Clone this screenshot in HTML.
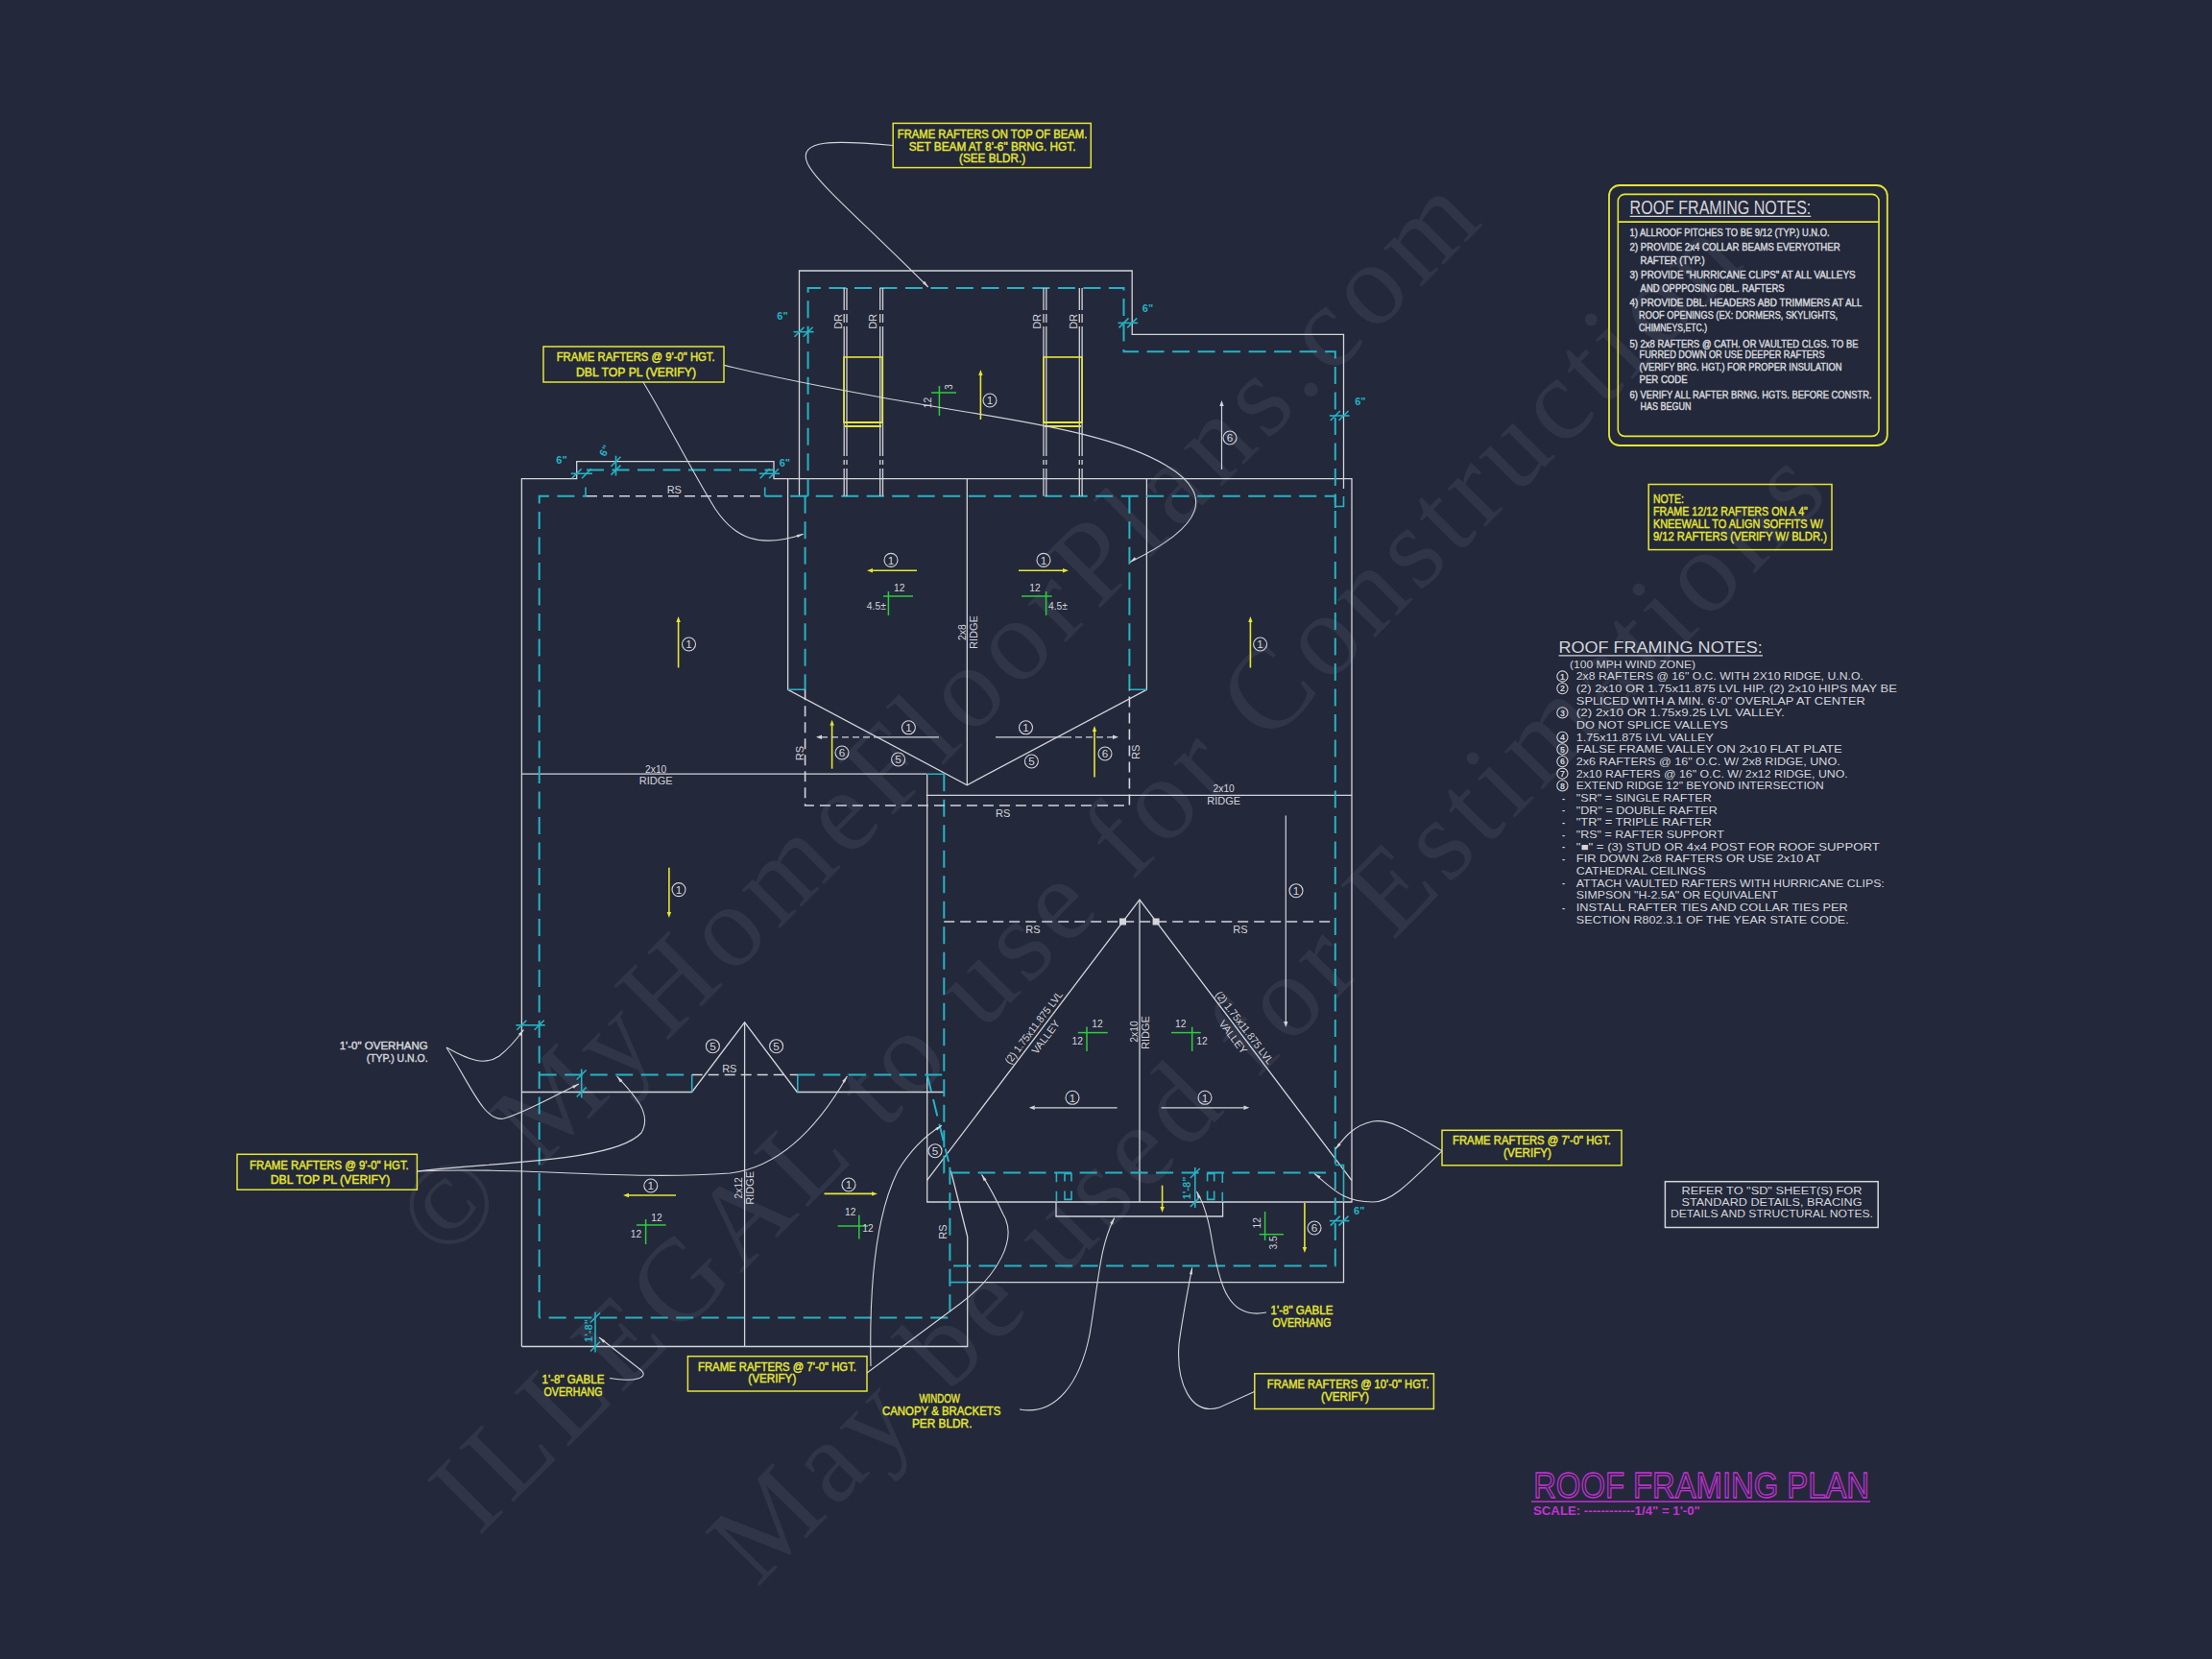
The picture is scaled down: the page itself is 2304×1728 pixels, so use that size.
<!DOCTYPE html>
<html><head><meta charset="utf-8"><title>Roof Framing Plan</title>
<style>
html,body{margin:0;padding:0;background:#23283a;width:2304px;height:1728px;overflow:hidden}
svg{display:block;font-family:"Liberation Sans",sans-serif}
.w{stroke:#d4d5da;stroke-width:1.3;fill:none}
.wd{stroke:#d4d5da;stroke-width:1.6;fill:none;stroke-dasharray:11 6}
.c{stroke:#25b3c4;stroke-width:2;fill:none;stroke-dasharray:18 8.5}
.cs{stroke:#25b3c4;stroke-width:1.6;fill:none}
.y{stroke:#e6e633;stroke-width:1.8;fill:none}
.g{stroke:#2ccc3c;stroke-width:1.5;fill:none}
.ld{stroke:#d4d5da;stroke-width:1.1;fill:none}
.wm{font-family:"Liberation Serif",serif;fill:#8b90a8;fill-opacity:0.13}
</style></head><body>
<svg width="2304" height="1728" viewBox="0 0 2304 1728">
<rect width="2304" height="1728" fill="#23283a"/>

<text class="wm" x="1004.6" y="774.4" font-size="122" text-anchor="middle" textLength="1531" lengthAdjust="spacing" transform="rotate(-45 1004.6 774.4)">© MyHomeFloorPlans.com</text>
<text class="wm" x="1158.4" y="938.7" font-size="122" text-anchor="middle" textLength="1870" lengthAdjust="spacing" transform="rotate(-45.1 1158.4 938.7)">ILLEGAL to use for Construction</text>
<text class="wm" x="1347.6" y="1085.6" font-size="122" text-anchor="middle" textLength="1595" lengthAdjust="spacing" transform="rotate(-45.5 1347.6 1085.6)">May be used for Estimations</text>
<path class="w" d="M832.5,516.7V282H1179.2V348.3H1399.5V509"/>
<path class="cs" d="M1390.8,527.5H1399.5V517"/>
<path class="w" d="M543.4,1402.5V498.7H600.7V480.7H806V498.7H1408V1252H965.7V806.2"/>
<path class="w" d="M543.4,806.2H965.3"/>
<path class="w" d="M964.8,828.3H1408"/>
<path class="w" d="M820.6,498.7V718.3L1007.3,817.7L1194.4,718.3V498.7"/>
<path class="w" d="M1007.3,498.7V817.7"/>
<path class="w" d="M543.4,1137.5H720.7L775.6,1064.8L830.3,1137.5H983.3"/>
<path class="w" d="M775.6,1064.8V1402.5"/>
<path class="w" d="M965.4,1229.7L1187,937L1408,1229.7"/>
<path class="w" d="M1187,937V1252"/>
<path class="w" d="M1100,1252V1267H1273.6V1252"/>
<path class="w" d="M543.4,1402.5H1007.7V1288L990.4,1219.5"/>
<path class="w" d="M1007.7,1335.6H1399.5V1252"/>
<path class="c" d="M841.6,516.7V300H1170.5V366.3H1390.8V529"/>
<path class="c" d="M561.7,1372.5V516.7H611"/>
<path class="c" d="M796.7,516.7H1390.8V1318.4H989.4"/>
<path class="c" d="M611,489.6H806"/>
<path class="c" d="M838.6,516.7V718.3"/>
<path class="c" d="M1176.4,516.7V718.3"/>
<path class="c" d="M983.3,806.2V1221.4H1390.8"/>
<path class="c" d="M989.4,1215.7V1372.5H561.7"/>
<path class="c" d="M561.7,1119.5H720.7"/>
<path class="c" d="M830.8,1119.5H983.3"/>
<path class="c" d="M965.7,1119.3L988,1210"/>
<path class="cs" d="M820.6,718.3H838.6M1176.4,718.3H1194.4M965.3,806.2H983.3"/>
<path class="cs" d="M720.7,1119.5V1137.5M830.8,1119.5V1137.5"/>
<path class="cs" d="M989.4,1335.6H1007.7"/>
<path class="cs" d="M1390.8,1213.5H1399.5V1252"/>
<path class="cs" d="M610,507.5V516.7M796.7,507.5V516.7"/>
<path class="wd" d="M611,516.7H796.7"/>
<path class="wd" d="M838.6,718.3V839H1176.4V718.3"/>
<path class="wd" d="M983.2,960H1390.8"/>
<path class="wd" d="M720.7,1119.5H830.8"/>
<rect x="1166" y="956.5" width="7" height="7" fill="#d4d5da"/>
<rect x="1200.6" y="956.5" width="7" height="7" fill="#d4d5da"/>
<path class="w" d="M879.2,300V323M879.2,327V336M879.2,340V475M879.2,479V484M879.2,488V516.7"/>
<path class="w" d="M882,300V323M882,327V336M882,340V475M882,479V484M882,488V516.7"/>
<path class="w" d="M916.7,300V323M916.7,327V336M916.7,340V475M916.7,479V484M916.7,488V516.7"/>
<path class="w" d="M919.5,300V323M919.5,327V336M919.5,340V475M919.5,479V484M919.5,488V516.7"/>
<path class="w" d="M1087,300V323M1087,327V336M1087,340V475M1087,479V484M1087,488V516.7"/>
<path class="w" d="M1089.8,300V323M1089.8,327V336M1089.8,340V475M1089.8,479V484M1089.8,488V516.7"/>
<path class="w" d="M1124.3,300V323M1124.3,327V336M1124.3,340V475M1124.3,479V484M1124.3,488V516.7"/>
<path class="w" d="M1127.1,300V323M1127.1,327V336M1127.1,340V475M1127.1,479V484M1127.1,488V516.7"/>
<rect x="879" y="372" width="40" height="68" fill="none" stroke="#e6e633" stroke-width="1.6"/>
<path class="y" d="M879,440H919 M880,444H918"/>
<rect x="1087" y="372" width="40" height="68" fill="none" stroke="#e6e633" stroke-width="1.6"/>
<path class="y" d="M1087,440H1127 M1088,444H1126"/>
<path d="M1021.4,437L1021.4,391" stroke="#e6e633" stroke-width="1.6" fill="none"/>
<path d="M1021.4,385L1023.6,391L1019.2,391Z" fill="#e6e633"/>
<circle cx="1031" cy="417" r="7" fill="none" stroke="#d4d5da" stroke-width="1.1"/>
<text x="1031" y="421.2" font-size="11.7" fill="#d4d5da" text-anchor="middle">1</text>
<path d="M706.6,695.5L706.6,648" stroke="#e6e633" stroke-width="1.6" fill="none"/>
<path d="M706.6,642L708.8,648L704.4,648Z" fill="#e6e633"/>
<circle cx="717.5" cy="671" r="7" fill="none" stroke="#d4d5da" stroke-width="1.1"/>
<text x="717.5" y="675.2" font-size="11.7" fill="#d4d5da" text-anchor="middle">1</text>
<path d="M696.9,903.8L696.9,950" stroke="#e6e633" stroke-width="1.6" fill="none"/>
<path d="M696.9,956L694.7,950L699.1,950Z" fill="#e6e633"/>
<circle cx="707" cy="926.6" r="7" fill="none" stroke="#d4d5da" stroke-width="1.1"/>
<text x="707" y="930.9" font-size="11.7" fill="#d4d5da" text-anchor="middle">1</text>
<path d="M1302.4,695.5L1302.4,648" stroke="#e6e633" stroke-width="1.6" fill="none"/>
<path d="M1302.4,642L1304.6,648L1300.2,648Z" fill="#e6e633"/>
<circle cx="1312.6" cy="671" r="7" fill="none" stroke="#d4d5da" stroke-width="1.1"/>
<text x="1312.6" y="675.2" font-size="11.7" fill="#d4d5da" text-anchor="middle">1</text>
<path d="M866.6,800.7L866.6,755.7" stroke="#e6e633" stroke-width="1.6" fill="none"/>
<path d="M866.6,749.7L868.8,755.7L864.4,755.7Z" fill="#e6e633"/>
<circle cx="877" cy="784" r="7" fill="none" stroke="#d4d5da" stroke-width="1.1"/>
<text x="877" y="788.2" font-size="11.7" fill="#d4d5da" text-anchor="middle">6</text>
<path d="M1140,809.4L1140,762" stroke="#e6e633" stroke-width="1.6" fill="none"/>
<path d="M1140,756L1142.2,762L1137.8,762Z" fill="#e6e633"/>
<circle cx="1151" cy="785" r="7" fill="none" stroke="#d4d5da" stroke-width="1.1"/>
<text x="1151" y="789.2" font-size="11.7" fill="#d4d5da" text-anchor="middle">6</text>
<path d="M955,594.2L909,594.2" stroke="#e6e633" stroke-width="1.6" fill="none"/>
<path d="M903,594.2L909,592L909,596.4Z" fill="#e6e633"/>
<circle cx="928" cy="583.4" r="7" fill="none" stroke="#d4d5da" stroke-width="1.1"/>
<text x="928" y="587.6" font-size="11.7" fill="#d4d5da" text-anchor="middle">1</text>
<path d="M1061,594.2L1107,594.2" stroke="#e6e633" stroke-width="1.6" fill="none"/>
<path d="M1113,594.2L1107,596.4L1107,592Z" fill="#e6e633"/>
<circle cx="1087" cy="583.4" r="7" fill="none" stroke="#d4d5da" stroke-width="1.1"/>
<text x="1087" y="587.6" font-size="11.7" fill="#d4d5da" text-anchor="middle">1</text>
<path d="M704,1245L655,1245" stroke="#e6e633" stroke-width="1.6" fill="none"/>
<path d="M649,1245L655,1242.8L655,1247.2Z" fill="#e6e633"/>
<circle cx="677.8" cy="1235" r="7" fill="none" stroke="#d4d5da" stroke-width="1.1"/>
<text x="677.8" y="1239.2" font-size="11.7" fill="#d4d5da" text-anchor="middle">1</text>
<path d="M858.5,1243.4L908,1243.4" stroke="#e6e633" stroke-width="1.6" fill="none"/>
<path d="M914,1243.4L908,1245.6L908,1241.2Z" fill="#e6e633"/>
<circle cx="884" cy="1234" r="7" fill="none" stroke="#d4d5da" stroke-width="1.1"/>
<text x="884" y="1238.2" font-size="11.7" fill="#d4d5da" text-anchor="middle">1</text>
<path d="M1210.6,1234.7L1210.6,1257" stroke="#e6e633" stroke-width="1.6" fill="none"/>
<path d="M1210.6,1263L1208.4,1257L1212.8,1257Z" fill="#e6e633"/>
<path d="M1358.9,1253L1358.9,1299" stroke="#e6e633" stroke-width="1.6" fill="none"/>
<path d="M1358.9,1305L1356.7,1299L1361.1,1299Z" fill="#e6e633"/>
<circle cx="1369" cy="1279" r="7" fill="none" stroke="#d4d5da" stroke-width="1.1"/>
<text x="1369" y="1283.2" font-size="11.7" fill="#d4d5da" text-anchor="middle">6</text>
<path d="M1272.5,489L1272.5,423" stroke="#d4d5da" stroke-width="1.2" fill="none"/>
<path d="M1272.5,417L1274.7,423L1270.3,423Z" fill="#d4d5da"/>
<circle cx="1281" cy="456" r="7" fill="none" stroke="#d4d5da" stroke-width="1.1"/>
<text x="1281" y="460.2" font-size="11.7" fill="#d4d5da" text-anchor="middle">6</text>
<path d="M917,767.8L856,767.8" stroke="#d4d5da" stroke-width="0.01" fill="none"/>
<path d="M850,767.8L856,765.6L856,770Z" fill="#d4d5da"/>
<path d="M978,767.8H917" stroke="#d4d5da" stroke-width="1.2"/><path d="M917,767.8H856" stroke="#d4d5da" stroke-width="1.2" stroke-dasharray="7 4"/>
<circle cx="946.4" cy="757.8" r="7" fill="none" stroke="#d4d5da" stroke-width="1.1"/>
<text x="946.4" y="762" font-size="11.7" fill="#d4d5da" text-anchor="middle">1</text>
<circle cx="935.6" cy="791" r="7" fill="none" stroke="#d4d5da" stroke-width="1.1"/>
<text x="935.6" y="795.2" font-size="11.7" fill="#d4d5da" text-anchor="middle">5</text>
<path d="M1109,767.8L1159,767.8" stroke="#d4d5da" stroke-width="0.01" fill="none"/>
<path d="M1165,767.8L1159,770L1159,765.6Z" fill="#d4d5da"/>
<path d="M1037,767.8H1109" stroke="#d4d5da" stroke-width="1.2"/><path d="M1109,767.8H1159" stroke="#d4d5da" stroke-width="1.2" stroke-dasharray="7 4"/>
<circle cx="1068.5" cy="757.8" r="7" fill="none" stroke="#d4d5da" stroke-width="1.1"/>
<text x="1068.5" y="762" font-size="11.7" fill="#d4d5da" text-anchor="middle">1</text>
<circle cx="1074.4" cy="793" r="7" fill="none" stroke="#d4d5da" stroke-width="1.1"/>
<text x="1074.4" y="797.2" font-size="11.7" fill="#d4d5da" text-anchor="middle">5</text>
<path d="M1339.3,849.6L1339.3,1064" stroke="#d4d5da" stroke-width="1.2" fill="none"/>
<path d="M1339.3,1070L1337.1,1064L1341.5,1064Z" fill="#d4d5da"/>
<circle cx="1350" cy="927.7" r="7" fill="none" stroke="#d4d5da" stroke-width="1.1"/>
<text x="1350" y="932" font-size="11.7" fill="#d4d5da" text-anchor="middle">1</text>
<path d="M1163.6,1153.8L1077.8,1153.8" stroke="#d4d5da" stroke-width="1.2" fill="none"/>
<path d="M1071.8,1153.8L1077.8,1151.6L1077.8,1156Z" fill="#d4d5da"/>
<circle cx="1117" cy="1143.3" r="7" fill="none" stroke="#d4d5da" stroke-width="1.1"/>
<text x="1117" y="1147.5" font-size="11.7" fill="#d4d5da" text-anchor="middle">1</text>
<path d="M1209.6,1153.8L1295.4,1153.8" stroke="#d4d5da" stroke-width="1.2" fill="none"/>
<path d="M1301.4,1153.8L1295.4,1156L1295.4,1151.6Z" fill="#d4d5da"/>
<circle cx="1255" cy="1143.3" r="7" fill="none" stroke="#d4d5da" stroke-width="1.1"/>
<text x="1255" y="1147.5" font-size="11.7" fill="#d4d5da" text-anchor="middle">1</text>
<circle cx="742.4" cy="1089.7" r="7" fill="none" stroke="#d4d5da" stroke-width="1.1"/>
<text x="742.4" y="1094" font-size="11.7" fill="#d4d5da" text-anchor="middle">5</text>
<circle cx="808.6" cy="1089.7" r="7" fill="none" stroke="#d4d5da" stroke-width="1.1"/>
<text x="808.6" y="1094" font-size="11.7" fill="#d4d5da" text-anchor="middle">5</text>
<circle cx="974" cy="1198.7" r="7" fill="none" stroke="#d4d5da" stroke-width="1.1"/>
<text x="974" y="1203" font-size="11.7" fill="#d4d5da" text-anchor="middle">5</text>
<path class="g" d="M978.4,402L978.4,433"/>
<path class="g" d="M970,409L996,409"/>
<text x="988.2" y="406.9" font-size="10.3" fill="#d4d5da" text-anchor="middle" transform="rotate(-90 988.2 403.2)">3</text>
<text x="966.5" y="423.2" font-size="10.3" fill="#d4d5da" text-anchor="middle" transform="rotate(-90 966.5 419.5)">12</text>
<path class="g" d="M925.4,616L925.4,641"/>
<path class="g" d="M920,621L951,621"/>
<text x="936.7" y="615.8" font-size="10.3" fill="#d4d5da" text-anchor="middle">12</text>
<text x="912.8" y="635.2" font-size="10.3" fill="#d4d5da" text-anchor="middle">4.5±</text>
<path class="g" d="M1089.6,616L1089.6,641"/>
<path class="g" d="M1064,621L1095.6,621"/>
<text x="1078" y="615.8" font-size="10.3" fill="#d4d5da" text-anchor="middle">12</text>
<text x="1102" y="634.8" font-size="10.3" fill="#d4d5da" text-anchor="middle">4.5±</text>
<path class="g" d="M672.6,1270L672.6,1296"/>
<path class="g" d="M663,1276L693.6,1276"/>
<text x="684" y="1271.5" font-size="10.3" fill="#d4d5da" text-anchor="middle">12</text>
<text x="662.6" y="1288.8" font-size="10.3" fill="#d4d5da" text-anchor="middle">12</text>
<path class="g" d="M894.8,1265.5L894.8,1290.5"/>
<path class="g" d="M872.6,1277L904,1277"/>
<text x="885.7" y="1265.8" font-size="10.3" fill="#d4d5da" text-anchor="middle">12</text>
<text x="904" y="1283.3" font-size="10.3" fill="#d4d5da" text-anchor="middle">12</text>
<path class="g" d="M1132,1069.6L1132,1095"/>
<path class="g" d="M1122.8,1075.6L1153.8,1075.6"/>
<text x="1143" y="1070.2" font-size="10.3" fill="#d4d5da" text-anchor="middle">12</text>
<text x="1122.3" y="1087.8" font-size="10.3" fill="#d4d5da" text-anchor="middle">12</text>
<path class="g" d="M1241.7,1069.6L1241.7,1095"/>
<path class="g" d="M1220,1075.6L1250.8,1075.6"/>
<text x="1229.7" y="1070.2" font-size="10.3" fill="#d4d5da" text-anchor="middle">12</text>
<text x="1251.9" y="1087.8" font-size="10.3" fill="#d4d5da" text-anchor="middle">12</text>
<path class="g" d="M1317.6,1262L1317.6,1292"/>
<path class="g" d="M1311.6,1285.7L1337,1285.7"/>
<text x="1309.4" y="1277.5" font-size="10.3" fill="#d4d5da" text-anchor="middle" transform="rotate(-90 1309.4 1273.8)">12</text>
<text x="1326.7" y="1298.2" font-size="10.3" fill="#d4d5da" text-anchor="middle" transform="rotate(-90 1326.7 1294.4)">3.5</text>
<text x="702.3" y="513.6" font-size="11" fill="#d4d5da" text-anchor="middle">RS</text>
<text x="832.5" y="788.5" font-size="11" fill="#d4d5da" text-anchor="middle" transform="rotate(-90 832.5 784.5)">RS</text>
<text x="1044.6" y="851.4" font-size="11" fill="#d4d5da" text-anchor="middle">RS</text>
<text x="1183.5" y="787.4" font-size="11" fill="#d4d5da" text-anchor="middle" transform="rotate(-90 1183.5 783.4)">RS</text>
<text x="683.2" y="804.5" font-size="10.3" fill="#d4d5da" text-anchor="middle">2x10</text>
<text x="683.2" y="816.7" font-size="11" fill="#d4d5da" text-anchor="middle">RIDGE</text>
<text x="1002.3" y="662.4" font-size="10.3" fill="#d4d5da" text-anchor="middle" transform="rotate(-90 1002.3 658.6)">2x8</text>
<text x="1014.3" y="662.6" font-size="11" fill="#d4d5da" text-anchor="middle" transform="rotate(-90 1014.3 658.6)">RIDGE</text>
<text x="1274.7" y="824.8" font-size="10.3" fill="#d4d5da" text-anchor="middle">2x10</text>
<text x="1274.7" y="838.4" font-size="11" fill="#d4d5da" text-anchor="middle">RIDGE</text>
<text x="1076" y="972" font-size="11" fill="#d4d5da" text-anchor="middle">RS</text>
<text x="1292" y="972" font-size="11" fill="#d4d5da" text-anchor="middle">RS</text>
<text x="1181.4" y="1078.2" font-size="10.3" fill="#d4d5da" text-anchor="middle" transform="rotate(-90 1181.4 1074.5)">2x10</text>
<text x="1193.3" y="1079.6" font-size="11" fill="#d4d5da" text-anchor="middle" transform="rotate(-90 1193.3 1075.6)">RIDGE</text>
<text x="1076.6" y="1074.2" font-size="11" fill="#d4d5da" text-anchor="middle" textLength="92" lengthAdjust="spacingAndGlyphs" transform="rotate(-52.9 1076.6 1070.2)">(2) 1.75x11.875 LVL</text>
<text x="1089" y="1084" font-size="11" fill="#d4d5da" text-anchor="middle" transform="rotate(-52.9 1089 1080)">VALLEY</text>
<text x="1296.4" y="1074.2" font-size="11" fill="#d4d5da" text-anchor="middle" textLength="92" lengthAdjust="spacingAndGlyphs" transform="rotate(52.9 1296.4 1070.2)">(2) 1.75x11.875 LVL</text>
<text x="1284.5" y="1084" font-size="11" fill="#d4d5da" text-anchor="middle" transform="rotate(52.9 1284.5 1080)">VALLEY</text>
<text x="759.8" y="1116.5" font-size="11" fill="#d4d5da" text-anchor="middle">RS</text>
<text x="769.6" y="1241" font-size="10.3" fill="#d4d5da" text-anchor="middle" transform="rotate(-90 769.6 1237.3)">2x12</text>
<text x="781.5" y="1241.3" font-size="11" fill="#d4d5da" text-anchor="middle" transform="rotate(-90 781.5 1237.3)">RIDGE</text>
<text x="982" y="1287" font-size="11" fill="#d4d5da" text-anchor="middle" transform="rotate(-90 982 1283)">RS</text>
<text x="872.6" y="338.9" font-size="11" fill="#d4d5da" text-anchor="middle" transform="rotate(-90 872.6 334.9)">DR</text>
<text x="909.5" y="338.9" font-size="11" fill="#d4d5da" text-anchor="middle" transform="rotate(-90 909.5 334.9)">DR</text>
<text x="1080.4" y="338.9" font-size="11" fill="#d4d5da" text-anchor="middle" transform="rotate(-90 1080.4 334.9)">DR</text>
<text x="1118" y="338.9" font-size="11" fill="#d4d5da" text-anchor="middle" transform="rotate(-90 1118 334.9)">DR</text>
<path class="cs" d="M826.5,345.7L847.6,345.7"/>
<path class="cs" d="M827.5,350.7L837.5,340.7"/>
<path class="cs" d="M836.6,350.7L846.6,340.7"/>
<text x="815" y="333.4" font-size="11" fill="#25b3c4" text-anchor="middle" font-weight="bold">6"</text>
<path class="cs" d="M1164.5,336.4L1185.2,336.4"/>
<path class="cs" d="M1165.5,341.4L1175.5,331.4"/>
<path class="cs" d="M1174.2,341.4L1184.2,331.4"/>
<text x="1195.5" y="324.8" font-size="11" fill="#25b3c4" text-anchor="middle" font-weight="bold">6"</text>
<path class="cs" d="M1384.8,433L1405.5,433"/>
<path class="cs" d="M1385.8,438L1395.8,428"/>
<path class="cs" d="M1394.5,438L1404.5,428"/>
<text x="1416.8" y="422" font-size="11" fill="#25b3c4" text-anchor="middle" font-weight="bold">6"</text>
<path class="cs" d="M594.7,493.3L617,493.3"/>
<path class="cs" d="M595.7,498.3L605.7,488.3"/>
<path class="cs" d="M606,498.3L616,488.3"/>
<text x="585" y="483" font-size="11" fill="#25b3c4" text-anchor="middle" font-weight="bold">6"</text>
<path class="cs" d="M641.5,474.7L641.5,495.6"/>
<path class="cs" d="M636.5,485.7L646.5,475.7"/>
<path class="cs" d="M636.5,494.6L646.5,484.6"/>
<text x="629.6" y="473.4" font-size="11" fill="#25b3c4" text-anchor="middle" transform="rotate(-60 629.6 469.4)" font-weight="bold">6"</text>
<path class="cs" d="M790.7,493.3L812,493.3"/>
<path class="cs" d="M791.7,498.3L801.7,488.3"/>
<path class="cs" d="M801,498.3L811,488.3"/>
<text x="817.3" y="486.4" font-size="11" fill="#25b3c4" text-anchor="middle" font-weight="bold">6"</text>
<path class="cs" d="M1384.8,1271.6L1405.5,1271.6"/>
<path class="cs" d="M1385.8,1276.6L1395.8,1266.6"/>
<path class="cs" d="M1394.5,1276.6L1404.5,1266.6"/>
<text x="1415.7" y="1264.8" font-size="11" fill="#25b3c4" text-anchor="middle" font-weight="bold">6"</text>
<path class="cs" d="M537.4,1067.8L567.7,1067.8"/>
<path class="cs" d="M538.4,1072.8L548.4,1062.8"/>
<path class="cs" d="M556.7,1072.8L566.7,1062.8"/>
<path class="cs" d="M605.7,1113.5L605.7,1143.5"/>
<path class="cs" d="M600.7,1124.5L610.7,1114.5"/>
<path class="cs" d="M600.7,1142.5L610.7,1132.5"/>
<path class="cs" d="M620,1366.5L620,1408.5"/>
<path class="cs" d="M615,1377.5L625,1367.5"/>
<path class="cs" d="M615,1407.5L625,1397.5"/>
<text x="613" y="1390" font-size="11" fill="#25b3c4" text-anchor="middle" transform="rotate(-90 613 1386)" font-weight="bold">1'-8"</text>
<path class="cs" d="M1244.8,1216L1244.8,1258"/>
<path class="cs" d="M1239.8,1227L1249.8,1217"/>
<path class="cs" d="M1239.8,1257L1249.8,1247"/>
<text x="1236.2" y="1241.5" font-size="11" fill="#25b3c4" text-anchor="middle" transform="rotate(-90 1236.2 1237.5)" font-weight="bold">1'-8"</text>
<path class="cs" d="M1100.4,1221.8V1231.3M1100.4,1240.8V1251.8"/>
<path class="cs" d="M1109,1230.4V1222.5H1116V1230.4M1109,1240.4V1249.4H1116V1240.4"/>
<path class="cs" d="M1257.6,1230.4V1222.5H1264.7V1230.4M1257.6,1240.4V1249.4H1264.7V1240.4"/>
<path class="cs" d="M1273.3,1221.8V1232M1273.3,1241.8V1251.8"/>
<rect x="930.2" y="128.4" width="206.1" height="46.2" fill="none" stroke="#e6e633" stroke-width="1.5"/>
<text x="1033.6" y="143.7" font-size="12.3" fill="#e6e633" text-anchor="middle" textLength="197.5" lengthAdjust="spacingAndGlyphs" stroke="#e6e633" stroke-width="0.45">FRAME RAFTERS ON TOP OF BEAM.</text>
<text x="1033.6" y="156.8" font-size="12.3" fill="#e6e633" text-anchor="middle" textLength="173.7" lengthAdjust="spacingAndGlyphs" stroke="#e6e633" stroke-width="0.45">SET BEAM AT 8'-6" BRNG. HGT.</text>
<text x="1033.6" y="169.1" font-size="12.3" fill="#e6e633" text-anchor="middle" textLength="69" lengthAdjust="spacingAndGlyphs" stroke="#e6e633" stroke-width="0.45">(SEE BLDR.)</text>
<rect x="566" y="361" width="188" height="37" fill="none" stroke="#e6e633" stroke-width="1.5"/>
<text x="662.2" y="376.3" font-size="12.3" fill="#e6e633" text-anchor="middle" textLength="165" lengthAdjust="spacingAndGlyphs" stroke="#e6e633" stroke-width="0.45">FRAME RAFTERS @ 9'-0" HGT.</text>
<text x="662.5" y="391.5" font-size="12.3" fill="#e6e633" text-anchor="middle" textLength="125" lengthAdjust="spacingAndGlyphs" stroke="#e6e633" stroke-width="0.45">DBL TOP PL (VERIFY)</text>
<rect x="247" y="1202.3" width="187.4" height="36.9" fill="none" stroke="#e6e633" stroke-width="1.5"/>
<text x="342.9" y="1217.5" font-size="12.3" fill="#e6e633" text-anchor="middle" textLength="165.7" lengthAdjust="spacingAndGlyphs" stroke="#e6e633" stroke-width="0.45">FRAME RAFTERS @ 9'-0" HGT.</text>
<text x="344" y="1232.9" font-size="12.3" fill="#e6e633" text-anchor="middle" textLength="124.4" lengthAdjust="spacingAndGlyphs" stroke="#e6e633" stroke-width="0.45">DBL TOP PL (VERIFY)</text>
<rect x="716.4" y="1412.7" width="186.6" height="36.3" fill="none" stroke="#e6e633" stroke-width="1.5"/>
<text x="809.5" y="1427.5" font-size="12.3" fill="#e6e633" text-anchor="middle" textLength="165" lengthAdjust="spacingAndGlyphs" stroke="#e6e633" stroke-width="0.45">FRAME RAFTERS @ 7'-0" HGT.</text>
<text x="804.3" y="1440" font-size="12.3" fill="#e6e633" text-anchor="middle" textLength="50" lengthAdjust="spacingAndGlyphs" stroke="#e6e633" stroke-width="0.45">(VERIFY)</text>
<rect x="1306.8" y="1430.8" width="186.6" height="36.7" fill="none" stroke="#e6e633" stroke-width="1.5"/>
<text x="1404.2" y="1445.5" font-size="12.3" fill="#e6e633" text-anchor="middle" textLength="168.7" lengthAdjust="spacingAndGlyphs" stroke="#e6e633" stroke-width="0.45">FRAME RAFTERS @ 10'-0" HGT.</text>
<text x="1401" y="1458.5" font-size="12.3" fill="#e6e633" text-anchor="middle" textLength="50" lengthAdjust="spacingAndGlyphs" stroke="#e6e633" stroke-width="0.45">(VERIFY)</text>
<rect x="1502" y="1177.3" width="187" height="36.5" fill="none" stroke="#e6e633" stroke-width="1.5"/>
<text x="1595.5" y="1192.3" font-size="12.3" fill="#e6e633" text-anchor="middle" textLength="165" lengthAdjust="spacingAndGlyphs" stroke="#e6e633" stroke-width="0.45">FRAME RAFTERS @ 7'-0" HGT.</text>
<text x="1591" y="1205.3" font-size="12.3" fill="#e6e633" text-anchor="middle" textLength="50" lengthAdjust="spacingAndGlyphs" stroke="#e6e633" stroke-width="0.45">(VERIFY)</text>
<rect x="1717.2" y="504.5" width="190.8" height="68.1" fill="none" stroke="#e6e633" stroke-width="1.5"/>
<text x="1721.9" y="523.9" font-size="12.3" fill="#e6e633" text-anchor="start" textLength="32" lengthAdjust="spacingAndGlyphs" stroke="#e6e633" stroke-width="0.45">NOTE:</text>
<text x="1721.9" y="536.8" font-size="12.3" fill="#e6e633" text-anchor="start" textLength="161" lengthAdjust="spacingAndGlyphs" stroke="#e6e633" stroke-width="0.45">FRAME 12/12 RAFTERS ON A 4"</text>
<text x="1721.9" y="550.2" font-size="12.3" fill="#e6e633" text-anchor="start" textLength="177" lengthAdjust="spacingAndGlyphs" stroke="#e6e633" stroke-width="0.45">KNEEWALL TO ALIGN SOFFITS W/</text>
<text x="1721.9" y="563.2" font-size="12.3" fill="#e6e633" text-anchor="start" textLength="181" lengthAdjust="spacingAndGlyphs" stroke="#e6e633" stroke-width="0.45">9/12 RAFTERS (VERIFY W/ BLDR.)</text>
<text x="597" y="1441" font-size="12.3" fill="#e6e633" text-anchor="middle" textLength="65" lengthAdjust="spacingAndGlyphs" stroke="#e6e633" stroke-width="0.45">1'-8" GABLE</text>
<text x="597" y="1453.5" font-size="12.3" fill="#e6e633" text-anchor="middle" textLength="61" lengthAdjust="spacingAndGlyphs" stroke="#e6e633" stroke-width="0.45">OVERHANG</text>
<text x="1356" y="1369" font-size="12.3" fill="#e6e633" text-anchor="middle" textLength="65" lengthAdjust="spacingAndGlyphs" stroke="#e6e633" stroke-width="0.45">1'-8" GABLE</text>
<text x="1356" y="1381.5" font-size="12.3" fill="#e6e633" text-anchor="middle" textLength="61" lengthAdjust="spacingAndGlyphs" stroke="#e6e633" stroke-width="0.45">OVERHANG</text>
<text x="978.6" y="1460.5" font-size="12.3" fill="#e6e633" text-anchor="middle" textLength="42.3" lengthAdjust="spacingAndGlyphs" stroke="#e6e633" stroke-width="0.45">WINDOW</text>
<text x="980.7" y="1473.9" font-size="12.3" fill="#e6e633" text-anchor="middle" textLength="123.4" lengthAdjust="spacingAndGlyphs" stroke="#e6e633" stroke-width="0.45">CANOPY &amp; BRACKETS</text>
<text x="981.2" y="1486.9" font-size="12.3" fill="#e6e633" text-anchor="middle" textLength="62.5" lengthAdjust="spacingAndGlyphs" stroke="#e6e633" stroke-width="0.45">PER BLDR.</text>
<text x="445.7" y="1093.2" font-size="11.7" fill="#d4d5da" text-anchor="end" textLength="92" lengthAdjust="spacingAndGlyphs" stroke="#d4d5da" stroke-width="0.45">1'-0" OVERHANG</text>
<text x="445.7" y="1105.8" font-size="11.7" fill="#d4d5da" text-anchor="end" textLength="64" lengthAdjust="spacingAndGlyphs" stroke="#d4d5da" stroke-width="0.45">(TYP.) U.N.O.</text>
<rect x="1676" y="193" width="289.8" height="271" rx="11" ry="11" fill="none" stroke="#e6e633" stroke-width="1.8"/>
<rect x="1685.3" y="202.4" width="271.7" height="252" rx="7" ry="7" fill="none" stroke="#e6e633" stroke-width="1.6"/>
<path class="y" d="M1685.3,231.2L1957,231.2"/>
<text x="1697.6" y="222.7" font-size="19.9" fill="#d4d5da" text-anchor="start" textLength="188.7" lengthAdjust="spacingAndGlyphs">ROOF FRAMING NOTES:</text>
<path d="M1697.6,225.3H1886.3" stroke="#d4d5da" stroke-width="1.2"/>
<text x="1697.6" y="245.8" font-size="10.4" fill="#d4d5da" text-anchor="start" textLength="208" lengthAdjust="spacingAndGlyphs" stroke="#d4d5da" stroke-width="0.45">1) ALLROOF PITCHES TO BE  9/12 (TYP.) U.N.O.</text>
<text x="1697.6" y="260.7" font-size="10.4" fill="#d4d5da" text-anchor="start" textLength="219" lengthAdjust="spacingAndGlyphs" stroke="#d4d5da" stroke-width="0.45">2) PROVIDE 2x4 COLLAR BEAMS EVERYOTHER</text>
<text x="1708.6" y="274.7" font-size="10.4" fill="#d4d5da" text-anchor="start" textLength="67" lengthAdjust="spacingAndGlyphs" stroke="#d4d5da" stroke-width="0.45">RAFTER (TYP.)</text>
<text x="1697.6" y="290.4" font-size="10.4" fill="#d4d5da" text-anchor="start" textLength="235" lengthAdjust="spacingAndGlyphs" stroke="#d4d5da" stroke-width="0.45">3) PROVIDE "HURRICANE CLIPS" AT ALL VALLEYS</text>
<text x="1708.6" y="304.4" font-size="10.4" fill="#d4d5da" text-anchor="start" textLength="150" lengthAdjust="spacingAndGlyphs" stroke="#d4d5da" stroke-width="0.45">AND OPPPOSING DBL. RAFTERS</text>
<text x="1697.6" y="318.8" font-size="10.4" fill="#d4d5da" text-anchor="start" textLength="242" lengthAdjust="spacingAndGlyphs" stroke="#d4d5da" stroke-width="0.45">4) PROVIDE DBL. HEADERS ABD TRIMMERS AT ALL</text>
<text x="1707.1" y="331.5" font-size="10.4" fill="#d4d5da" text-anchor="start" textLength="207" lengthAdjust="spacingAndGlyphs" stroke="#d4d5da" stroke-width="0.45">ROOF OPENINGS (EX: DORMERS, SKYLIGHTS,</text>
<text x="1707.1" y="344.6" font-size="10.4" fill="#d4d5da" text-anchor="start" textLength="71" lengthAdjust="spacingAndGlyphs" stroke="#d4d5da" stroke-width="0.45">CHIMNEYS,ETC.)</text>
<text x="1697.6" y="362.1" font-size="10.4" fill="#d4d5da" text-anchor="start" textLength="238" lengthAdjust="spacingAndGlyphs" stroke="#d4d5da" stroke-width="0.45">5) 2x8 RAFTERS @ CATH. OR VAULTED CLGS. TO BE</text>
<text x="1707.6" y="373.4" font-size="10.4" fill="#d4d5da" text-anchor="start" textLength="193" lengthAdjust="spacingAndGlyphs" stroke="#d4d5da" stroke-width="0.45">FURRED DOWN OR USE DEEPER RAFTERS</text>
<text x="1707.6" y="385.7" font-size="10.4" fill="#d4d5da" text-anchor="start" textLength="211" lengthAdjust="spacingAndGlyphs" stroke="#d4d5da" stroke-width="0.45">(VERIFY BRG. HGT.) FOR PROPER INSULATION</text>
<text x="1707.6" y="398.8" font-size="10.4" fill="#d4d5da" text-anchor="start" textLength="50" lengthAdjust="spacingAndGlyphs" stroke="#d4d5da" stroke-width="0.45">PER CODE</text>
<text x="1697.6" y="414.5" font-size="10.4" fill="#d4d5da" text-anchor="start" textLength="252" lengthAdjust="spacingAndGlyphs" stroke="#d4d5da" stroke-width="0.45">6) VERIFY ALL RAFTER BRNG. HGTS. BEFORE CONSTR.</text>
<text x="1708.6" y="426.8" font-size="10.4" fill="#d4d5da" text-anchor="start" textLength="53" lengthAdjust="spacingAndGlyphs" stroke="#d4d5da" stroke-width="0.45">HAS BEGUN</text>
<text x="1623.5" y="680.3" font-size="15.9" fill="#d4d5da" text-anchor="start" textLength="212.2" lengthAdjust="spacingAndGlyphs">ROOF FRAMING NOTES:</text>
<path d="M1623.5,682.8H1836" stroke="#d4d5da" stroke-width="1.2"/>
<text x="1635" y="695.6" font-size="10.6" fill="#d4d5da" text-anchor="start" textLength="131" lengthAdjust="spacingAndGlyphs">(100 MPH WIND ZONE)</text>
<circle cx="1627.4" cy="704.5" r="5.6" fill="none" stroke="#d4d5da" stroke-width="1.1"/>
<text x="1627.4" y="707.7" font-size="8.9" fill="#d4d5da" text-anchor="middle" font-weight="bold">1</text>
<text x="1641.8" y="708.3" font-size="10.6" fill="#d4d5da" text-anchor="start" textLength="299" lengthAdjust="spacingAndGlyphs">2x8 RAFTERS @ 16" O.C. WITH 2X10 RIDGE, U.N.O.</text>
<circle cx="1627.4" cy="717.1" r="5.6" fill="none" stroke="#d4d5da" stroke-width="1.1"/>
<text x="1627.4" y="720.4" font-size="8.9" fill="#d4d5da" text-anchor="middle" font-weight="bold">2</text>
<text x="1641.8" y="721" font-size="10.6" fill="#d4d5da" text-anchor="start" textLength="334" lengthAdjust="spacingAndGlyphs">(2) 2x10 OR 1.75x11.875 LVL HIP. (2) 2x10 HIPS MAY BE</text>
<text x="1641.8" y="733.6" font-size="10.6" fill="#d4d5da" text-anchor="start" textLength="301" lengthAdjust="spacingAndGlyphs">SPLICED WITH A MIN. 6'-0" OVERLAP AT CENTER</text>
<circle cx="1627.4" cy="742.4" r="5.6" fill="none" stroke="#d4d5da" stroke-width="1.1"/>
<text x="1627.4" y="745.7" font-size="8.9" fill="#d4d5da" text-anchor="middle" font-weight="bold">3</text>
<text x="1641.8" y="746.3" font-size="10.6" fill="#d4d5da" text-anchor="start" textLength="217" lengthAdjust="spacingAndGlyphs">(2) 2x10 OR 1.75x9.25 LVL VALLEY.</text>
<text x="1641.8" y="758.9" font-size="10.6" fill="#d4d5da" text-anchor="start" textLength="158" lengthAdjust="spacingAndGlyphs">DO NOT SPLICE VALLEYS</text>
<circle cx="1627.4" cy="767.8" r="5.6" fill="none" stroke="#d4d5da" stroke-width="1.1"/>
<text x="1627.4" y="771" font-size="8.9" fill="#d4d5da" text-anchor="middle" font-weight="bold">4</text>
<text x="1641.8" y="771.6" font-size="10.6" fill="#d4d5da" text-anchor="start" textLength="143" lengthAdjust="spacingAndGlyphs">1.75x11.875 LVL VALLEY</text>
<circle cx="1627.4" cy="780.4" r="5.6" fill="none" stroke="#d4d5da" stroke-width="1.1"/>
<text x="1627.4" y="783.7" font-size="8.9" fill="#d4d5da" text-anchor="middle" font-weight="bold">5</text>
<text x="1641.8" y="784.3" font-size="10.6" fill="#d4d5da" text-anchor="start" textLength="277" lengthAdjust="spacingAndGlyphs">FALSE FRAME VALLEY ON 2x10 FLAT PLATE</text>
<circle cx="1627.4" cy="793.1" r="5.6" fill="none" stroke="#d4d5da" stroke-width="1.1"/>
<text x="1627.4" y="796.3" font-size="8.9" fill="#d4d5da" text-anchor="middle" font-weight="bold">6</text>
<text x="1641.8" y="796.9" font-size="10.6" fill="#d4d5da" text-anchor="start" textLength="275" lengthAdjust="spacingAndGlyphs">2x6 RAFTERS @ 16" O.C. W/ 2x8 RIDGE, UNO.</text>
<circle cx="1627.4" cy="805.7" r="5.6" fill="none" stroke="#d4d5da" stroke-width="1.1"/>
<text x="1627.4" y="809" font-size="8.9" fill="#d4d5da" text-anchor="middle" font-weight="bold">7</text>
<text x="1641.8" y="809.6" font-size="10.6" fill="#d4d5da" text-anchor="start" textLength="283" lengthAdjust="spacingAndGlyphs">2x10 RAFTERS @ 16" O.C. W/ 2x12 RIDGE, UNO.</text>
<circle cx="1627.4" cy="818.4" r="5.6" fill="none" stroke="#d4d5da" stroke-width="1.1"/>
<text x="1627.4" y="821.6" font-size="8.9" fill="#d4d5da" text-anchor="middle" font-weight="bold">8</text>
<text x="1641.8" y="822.2" font-size="10.6" fill="#d4d5da" text-anchor="start" textLength="258" lengthAdjust="spacingAndGlyphs">EXTEND RIDGE 12" BEYOND INTERSECTION</text>
<text x="1628.5" y="834.6" font-size="9.6" fill="#d4d5da" text-anchor="middle" font-weight="bold">-</text>
<text x="1641.8" y="834.9" font-size="10.6" fill="#d4d5da" text-anchor="start" textLength="141" lengthAdjust="spacingAndGlyphs">"SR"  =  SINGLE RAFTER</text>
<text x="1628.5" y="847.2" font-size="9.6" fill="#d4d5da" text-anchor="middle" font-weight="bold">-</text>
<text x="1641.8" y="847.6" font-size="10.6" fill="#d4d5da" text-anchor="start" textLength="147" lengthAdjust="spacingAndGlyphs">"DR"  =  DOUBLE RAFTER</text>
<text x="1628.5" y="859.9" font-size="9.6" fill="#d4d5da" text-anchor="middle" font-weight="bold">-</text>
<text x="1641.8" y="860.2" font-size="10.6" fill="#d4d5da" text-anchor="start" textLength="141" lengthAdjust="spacingAndGlyphs">"TR"  =  TRIPLE RAFTER</text>
<text x="1628.5" y="872.5" font-size="9.6" fill="#d4d5da" text-anchor="middle" font-weight="bold">-</text>
<text x="1641.8" y="872.9" font-size="10.6" fill="#d4d5da" text-anchor="start" textLength="154" lengthAdjust="spacingAndGlyphs">"RS"  = RAFTER SUPPORT</text>
<text x="1628.5" y="885.2" font-size="9.6" fill="#d4d5da" text-anchor="middle" font-weight="bold">-</text>
<text x="1641.8" y="885.5" font-size="10.6" fill="#d4d5da" text-anchor="start" textLength="316" lengthAdjust="spacingAndGlyphs">"■"   = (3) STUD OR 4x4 POST FOR ROOF SUPPORT</text>
<text x="1628.5" y="897.9" font-size="9.6" fill="#d4d5da" text-anchor="middle" font-weight="bold">-</text>
<text x="1641.8" y="898.2" font-size="10.6" fill="#d4d5da" text-anchor="start" textLength="255" lengthAdjust="spacingAndGlyphs">FIR DOWN 2x8 RAFTERS OR USE 2x10 AT</text>
<text x="1641.8" y="910.9" font-size="10.6" fill="#d4d5da" text-anchor="start" textLength="135" lengthAdjust="spacingAndGlyphs">CATHEDRAL CEILINGS</text>
<text x="1628.5" y="923.2" font-size="9.6" fill="#d4d5da" text-anchor="middle" font-weight="bold">-</text>
<text x="1641.8" y="923.5" font-size="10.6" fill="#d4d5da" text-anchor="start" textLength="321" lengthAdjust="spacingAndGlyphs">ATTACH VAULTED RAFTERS WITH HURRICANE CLIPS:</text>
<text x="1641.8" y="936.2" font-size="10.6" fill="#d4d5da" text-anchor="start" textLength="210" lengthAdjust="spacingAndGlyphs">SIMPSON "H-2.5A" OR EQUIVALENT</text>
<text x="1628.5" y="948.5" font-size="9.6" fill="#d4d5da" text-anchor="middle" font-weight="bold">-</text>
<text x="1641.8" y="948.9" font-size="10.6" fill="#d4d5da" text-anchor="start" textLength="283" lengthAdjust="spacingAndGlyphs">INSTALL RAFTER TIES AND COLLAR TIES PER</text>
<text x="1641.8" y="961.5" font-size="10.6" fill="#d4d5da" text-anchor="start" textLength="284" lengthAdjust="spacingAndGlyphs">SECTION R802.3.1 OF THE YEAR STATE CODE.</text>
<rect x="1734.4" y="1230.7" width="221.8" height="47.8" fill="none" stroke="#d4d5da" stroke-width="1.5"/>
<text x="1845.5" y="1243.5" font-size="10" fill="#d4d5da" text-anchor="middle" textLength="188" lengthAdjust="spacingAndGlyphs">REFER TO "SD"  SHEET(S) FOR</text>
<text x="1845.5" y="1255.9" font-size="10" fill="#d4d5da" text-anchor="middle" textLength="188" lengthAdjust="spacingAndGlyphs">STANDARD DETAILS, BRACING</text>
<text x="1845.5" y="1268.2" font-size="10" fill="#d4d5da" text-anchor="middle" textLength="211" lengthAdjust="spacingAndGlyphs">DETAILS AND STRUCTURAL NOTES.</text>
<text x="1597.2" y="1559.7" font-size="37" fill="none" stroke="#c531d6" stroke-width="1.3" textLength="349.8" lengthAdjust="spacingAndGlyphs">ROOF FRAMING PLAN</text>
<path d="M1595,1564H1948" stroke="#c531d6" stroke-width="1.4"/>
<text x="1597" y="1577.5" font-size="13" fill="#c531d6" text-anchor="start" textLength="173.8" lengthAdjust="spacingAndGlyphs" font-weight="bold">SCALE: ------------1/4" = 1'-0"</text>
<path class="ld" d="M930.2,151.5C870,146 830,145 841,170C850,190 900,232 966.8,299"/>
<path d="M966.8,299L960.9,294.9L963.2,292.8Z" fill="#d4d5da"/>
<path class="ld" d="M754.4,380.4C800,392 900,412 1000,428C1100,444 1170,458 1215,485C1265,515 1255,548 1177,585.5"/>
<path d="M1177,585.5L1181.8,580.2L1183.7,582.8Z" fill="#d4d5da"/>
<path class="ld" d="M669.7,397.8C690,430 720,490 745,530C765,560 790,572 836.8,556.2"/>
<path d="M836.8,556.2L830.7,560L829.7,557Z" fill="#d4d5da"/>
<path class="ld" d="M465,1091C490,1105 505,1110 520,1100C530,1092 540,1080 545.5,1072.5"/>
<path d="M545.5,1072.5L542.4,1079L539.9,1077Z" fill="#d4d5da"/>
<path class="ld" d="M465,1091C490,1130 505,1170 525,1165C545,1160 580,1140 603,1129"/>
<path d="M603,1129L597.6,1133.7L596.1,1130.9Z" fill="#d4d5da"/>
<path class="ld" d="M434.4,1220C520,1210 640,1210 668,1180C680,1160 660,1140 642.6,1121"/>
<path d="M642.6,1121L648.4,1125.3L645.9,1127.4Z" fill="#d4d5da"/>
<path class="ld" d="M434.4,1220C550,1215 650,1230 760,1222C820,1215 860,1160 882.4,1121"/>
<path d="M882.4,1121L879.9,1127.7L877.2,1126Z" fill="#d4d5da"/>
<path class="ld" d="M907,1423C905,1330 915,1260 935,1220C950,1195 965,1182 981,1172.3"/>
<path d="M981,1172.3L976.1,1177.5L974.3,1174.9Z" fill="#d4d5da"/>
<path class="ld" d="M903,1430L1000,1358C1040,1328 1060,1290 1045,1265C1038,1250 1030,1235 1022.5,1223.4"/>
<path d="M1022.5,1223.4L1027.5,1228.6L1024.7,1230.2Z" fill="#d4d5da"/>
<path class="ld" d="M1062,1468C1100,1475 1125,1440 1135,1390C1145,1330 1145,1300 1160.7,1268.4"/>
<path d="M1160.7,1268.4L1159,1275.4L1156.2,1274Z" fill="#d4d5da"/>
<path class="ld" d="M1306.6,1449.6L1270,1466C1240,1475 1225,1440 1228,1400C1232,1370 1238,1340 1241.7,1320.4"/>
<path d="M1241.7,1320.4L1242,1327.6L1238.9,1327Z" fill="#d4d5da"/>
<path class="ld" d="M1319,1367C1280,1375 1270,1340 1262,1290C1258,1265 1252,1250 1246.5,1241"/>
<path d="M1246.5,1241L1250.5,1246.9L1247.6,1248.1Z" fill="#d4d5da"/>
<path class="ld" d="M635,1435.5C660,1440 680,1435 665,1425L624,1393"/>
<path d="M624,1393L630.4,1396.2L628.4,1398.7Z" fill="#d4d5da"/>
<path class="ld" d="M1502,1198.8C1470,1180 1450,1165 1430,1168C1410,1172 1400,1185 1391,1197"/>
<path d="M1391,1197L1394.2,1190.6L1396.7,1192.6Z" fill="#d4d5da"/>
<path class="ld" d="M1502,1198.8C1470,1230 1450,1252 1430,1252C1400,1252 1390,1240 1369,1222.4"/>
<path d="M1369,1222.4L1375.6,1225.3L1373.7,1227.8Z" fill="#d4d5da"/>
</svg></body></html>
